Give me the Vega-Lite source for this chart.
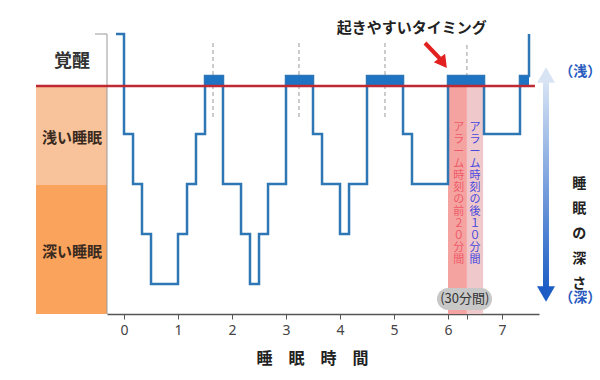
{
  "$schema": "https://vega.github.io/schema/vega-lite/v6.json",
  "width": 432,
  "height": 314,
  "autosize": {"type": "none"},
  "padding": {"left": 107, "top": 0, "right": 61, "bottom": 66},
  "background": "white",
  "config": {"view": {"stroke": null}, "font": "Noto Sans CJK JP"},
  "datasets": {
    "bandlight": [{"x": -1.63, "x2": -0.315, "y": 0.04, "y2": 2.02}],
    "banddeep": [{"x": -1.63, "x2": -0.315, "y": 2.02, "y2": 4.6}],
    "pinkbefore": [{"x": 6.0, "x2": 6.35, "y": 0.04, "y2": 4.6}],
    "pinkafter": [{"x": 6.35, "x2": 6.65, "y": 0.04, "y2": 4.6}],
    "leftline": [{"x": -0.315, "y": -1, "y2": 4.6}],
    "lefttick": [{"x": -0.537, "x2": -0.315, "y": -1}],
    "dashes": [
      {"x": 1.648, "y": -0.82, "y2": 0.68},
      {"x": 3.24, "y": -0.82, "y2": 0.68},
      {"x": 4.833, "y": -0.82, "y2": 0.68},
      {"x": 6.35, "y": -0.78, "y2": 0.04}
    ],
    "hypno": [
      {"x": -0.148, "y": -1},
      {"x": 0.0, "y": 1},
      {"x": 0.167, "y": 2},
      {"x": 0.333, "y": 3},
      {"x": 0.5, "y": 4},
      {"x": 1.0, "y": 3},
      {"x": 1.167, "y": 2},
      {"x": 1.333, "y": 1},
      {"x": 1.5, "y": -0.16},
      {"x": 1.833, "y": 2},
      {"x": 2.167, "y": 3},
      {"x": 2.333, "y": 4},
      {"x": 2.5, "y": 3},
      {"x": 2.667, "y": 2},
      {"x": 3.0, "y": -0.16},
      {"x": 3.5, "y": 1},
      {"x": 3.667, "y": 2},
      {"x": 4.0, "y": 3},
      {"x": 4.167, "y": 2},
      {"x": 4.5, "y": -0.16},
      {"x": 5.167, "y": 1},
      {"x": 5.333, "y": 2},
      {"x": 6.0, "y": -0.16},
      {"x": 6.667, "y": 1},
      {"x": 7.333, "y": -0.16},
      {"x": 7.5, "y": -1}
    ],
    "blocks": [
      {"x": 1.5, "x2": 1.833, "y": -0.16, "y2": 0.04},
      {"x": 3.0, "x2": 3.5, "y": -0.16, "y2": 0.04},
      {"x": 4.5, "x2": 5.167, "y": -0.16, "y2": 0.04},
      {"x": 6.0, "x2": 6.667, "y": -0.16, "y2": 0.04},
      {"x": 7.333, "x2": 7.5, "y": -0.16, "y2": 0.04}
    ],
    "redline": [{"x": -1.63, "x2": 7.61, "y": 0.04}],
    "vtextbefore": [{"x": 6.2, "y": 0.76, "t": "ア\nラ\nー\nム\n時\n刻\nの\n前\n２\n０\n分\n間"}],
    "vtextafter": [{"x": 6.5, "y": 0.76, "t": "ア\nラ\nー\nム\n時\n刻\nの\n後\n１\n０\n分\n間"}],
    "pill": [{"x": 5.796, "x2": 6.815, "y": 4.08, "y2": 4.52}],
    "pilltext": [{"x": 6.31, "y": 4.3, "t": "(30分間)"}],
    "title": [{"x": 5.33, "y": -1.12, "t": "起きやすいタイミング"}],
    "arrowshaft": [{"x": 5.574, "x2": 5.848, "y": -0.82, "y2": -0.51}],
    "arrowhead": [{"x": 5.91, "y": -0.42}],
    "depthshaft": [{"x": 7.759, "x2": 7.87, "y": -0.16, "y2": 4.06}],
    "depthtop": [{"x": 7.815, "y": -0.18}],
    "depthbottom": [{"x": 7.815, "y": 4.2}],
    "depthlabels": [
      {"x": 8.45, "y": -0.24, "t": "（浅）"},
      {"x": 8.45, "y": 4.28, "t": "（深）"}
    ],
    "depthtitle": [{"x": 8.43, "y": 2.0, "t": "睡\n眠\nの\n深\nさ"}],
    "labelawake": [{"x": -0.963, "y": -0.44, "t": "覚醒"}],
    "labelsleep": [
      {"x": -0.963, "y": 1.08, "t": "浅い睡眠"},
      {"x": -0.963, "y": 3.36, "t": "深い睡眠"}
    ]
  },
  "encoding": {
    "x": {
      "field": "x",
      "type": "quantitative",
      "scale": {"domain": [-0.315, 7.685], "nice": false, "zero": false},
      "axis": {
        "values": [0, 1, 2, 3, 4, 5, 6, 6.35, 7],
        "labelExpr": "datum.value == 6.35 ? '' : format(datum.value, 'd')",
        "grid": false,
        "domainColor": "#555555",
        "domainWidth": 1.5,
        "tickColor": "#555555",
        "tickSize": 5,
        "labelFontSize": 14,
        "labelColor": "#444444",
        "labelPadding": 4,
        "labelFont": "Noto Sans",
        "title": "睡　眠　時　間",
        "titleFontSize": 16,
        "titleFontWeight": "bold",
        "titleColor": "#222222",
        "titleX": 205,
        "titleY": 44,
        "titleBaseline": "middle",
        "titleAlign": "center"
      }
    },
    "y": {
      "field": "y",
      "type": "quantitative",
      "scale": {"domain": [-1.68, 4.6], "nice": false, "zero": false, "reverse": true},
      "axis": null
    }
  },
  "layer": [
    {
      "data": {"name": "bandlight"},
      "mark": {"type": "rect", "color": "#F8C39B"},
      "encoding": {"x2": {"field": "x2"}, "y2": {"field": "y2"}}
    },
    {
      "data": {"name": "banddeep"},
      "mark": {"type": "rect", "color": "#F9A35C"},
      "encoding": {"x2": {"field": "x2"}, "y2": {"field": "y2"}}
    },
    {
      "data": {"name": "pinkbefore"},
      "mark": {"type": "rect", "color": "#F5A3A1"},
      "encoding": {"x2": {"field": "x2"}, "y2": {"field": "y2"}}
    },
    {
      "data": {"name": "pinkafter"},
      "mark": {"type": "rect", "color": "#EFC8CC"},
      "encoding": {"x2": {"field": "x2"}, "y2": {"field": "y2"}}
    },
    {
      "data": {"name": "leftline"},
      "mark": {"type": "rule", "color": "#999999", "strokeWidth": 1},
      "encoding": {"y2": {"field": "y2"}}
    },
    {
      "data": {"name": "lefttick"},
      "mark": {"type": "rule", "color": "#999999", "strokeWidth": 1},
      "encoding": {"x2": {"field": "x2"}}
    },
    {
      "data": {"name": "dashes"},
      "mark": {"type": "rule", "color": "#9A9A9A", "strokeWidth": 1, "strokeDash": [4, 3]},
      "encoding": {"y2": {"field": "y2"}}
    },
    {
      "data": {"name": "hypno"},
      "mark": {"type": "line", "interpolate": "step-after", "color": "#2E77B4", "strokeWidth": 2.5},
      "encoding": {}
    },
    {
      "data": {"name": "blocks"},
      "mark": {"type": "rect", "color": "#1F73C3"},
      "encoding": {"x2": {"field": "x2"}, "y2": {"field": "y2"}}
    },
    {
      "data": {"name": "redline"},
      "mark": {"type": "rule", "color": "#BF2A32", "strokeWidth": 2.5},
      "encoding": {"x2": {"field": "x2"}}
    },
    {
      "data": {"name": "vtextbefore"},
      "mark": {"type": "text", "fontSize": 11, "lineHeight": 12, "lineBreak": "\n", "baseline": "top", "align": "center", "color": "#EE5A68"},
      "encoding": {"text": {"field": "t"}}
    },
    {
      "data": {"name": "vtextafter"},
      "mark": {"type": "text", "fontSize": 11, "lineHeight": 12, "lineBreak": "\n", "baseline": "top", "align": "center", "color": "#4848DD"},
      "encoding": {"text": {"field": "t"}}
    },
    {
      "data": {"name": "pill"},
      "mark": {"type": "rect", "color": "#C8C8C8", "cornerRadius": 11},
      "encoding": {"x2": {"field": "x2"}, "y2": {"field": "y2"}}
    },
    {
      "data": {"name": "pilltext"},
      "mark": {"type": "text", "fontSize": 13, "color": "#333333", "baseline": "middle", "align": "center"},
      "encoding": {"text": {"field": "t"}}
    },
    {
      "data": {"name": "title"},
      "mark": {"type": "text", "fontSize": 15, "fontWeight": "bold", "color": "#222222", "baseline": "middle", "align": "center"},
      "encoding": {"text": {"field": "t"}}
    },
    {
      "data": {"name": "arrowshaft"},
      "mark": {"type": "rule", "color": "#E2201F", "strokeWidth": 4},
      "encoding": {"x2": {"field": "x2"}, "y2": {"field": "y2"}}
    },
    {
      "data": {"name": "arrowhead"},
      "mark": {"type": "point", "shape": "triangle-up", "angle": 143, "size": 200, "filled": true, "color": "#E2201F", "opacity": 1},
      "encoding": {}
    },
    {
      "data": {"name": "depthshaft"},
      "mark": {
        "type": "rect",
        "fill": {
          "gradient": "linear", "x1": 0, "y1": 0, "x2": 0, "y2": 1,
          "stops": [{"offset": 0, "color": "#DCE7F6"}, {"offset": 1, "color": "#1F5FC6"}]
        }
      },
      "encoding": {"x2": {"field": "x2"}, "y2": {"field": "y2"}}
    },
    {
      "data": {"name": "depthtop"},
      "mark": {"type": "point", "shape": "triangle-up", "size": 324, "filled": true, "color": "#D8E4F4", "opacity": 1},
      "encoding": {}
    },
    {
      "data": {"name": "depthbottom"},
      "mark": {"type": "point", "shape": "triangle-down", "size": 324, "filled": true, "color": "#1C5CC4", "opacity": 1},
      "encoding": {}
    },
    {
      "data": {"name": "depthlabels"},
      "mark": {"type": "text", "fontSize": 14, "fontWeight": "bold", "color": "#2A5CC0", "baseline": "middle", "align": "center"},
      "encoding": {"text": {"field": "t"}}
    },
    {
      "data": {"name": "depthtitle"},
      "mark": {"type": "text", "fontSize": 14, "fontWeight": "bold", "color": "#222222", "baseline": "middle", "align": "center", "lineBreak": "\n", "lineHeight": 25},
      "encoding": {"text": {"field": "t"}}
    },
    {
      "data": {"name": "labelawake"},
      "mark": {"type": "text", "fontSize": 18, "fontWeight": "bold", "color": "#333333", "baseline": "middle", "align": "center"},
      "encoding": {"text": {"field": "t"}}
    },
    {
      "data": {"name": "labelsleep"},
      "mark": {"type": "text", "fontSize": 15, "fontWeight": "bold", "color": "#3A2A20", "baseline": "middle", "align": "center"},
      "encoding": {"text": {"field": "t"}}
    }
  ]
}
